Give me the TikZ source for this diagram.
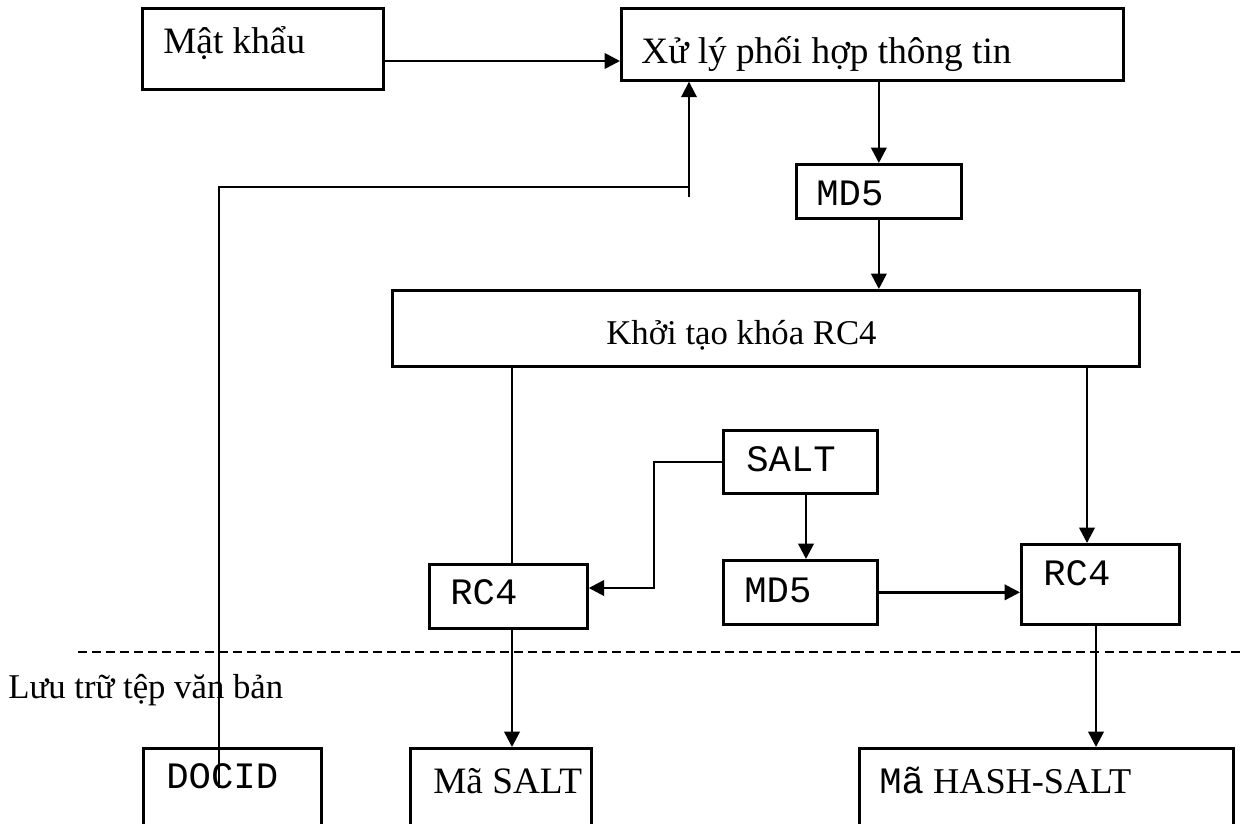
\documentclass[tikz,border=0pt]{standalone}
\usepackage{fontspec}
\setmainfont{Liberation Serif}
\newfontfamily\codefont{Liberation Mono}
\usetikzlibrary{arrows.meta}

\newcommand{\code}[1]{{\codefont\fontsize{26.5}{30}\selectfont #1}}

\begin{document}
\begin{tikzpicture}[x=0.025cm, y=-0.025cm,
  box/.style={draw, line width=1.9pt, rectangle, anchor=north west, inner ysep=0pt, align=flush left, font=\fontsize{24.7}{30}\selectfont},
  big/.style={font=\fontsize{26.5}{31}\selectfont},
  arr/.style={line width=1.9pt, -{Triangle[length=11pt,width=11pt]}},
  link/.style={line width=1.9pt},
  sep/.style={line width=1.2pt, dash pattern=on 6.4pt off 3.6pt}]
\useasboundingbox (0,0) rectangle (1240,823);
\clip (0,0) rectangle (1240,823);

\node (matkhau) [box, big, text width=4.975cm, inner xsep=0.525cm, text height=1.125cm, text depth=0.9cm] at (141,7) {Mật khẩu};
\node (xuly) [box, big, text width=11.55cm, inner xsep=0.5cm, text height=1.375cm, text depth=0.425cm] at (620,7) {Xử lý phối hợp thông tin};
\node (md5a) [box, text width=3.125cm, inner xsep=0.5cm, text height=1.025cm, text depth=0.325cm] at (795,163) {\code{MD5}};
\node (khoi) [box, text width=7.975cm, inner xsep=5.35cm, text height=1.35cm, text depth=0.55cm] at (391,289) {Khởi tạo khóa RC4};
\node (salt) [box, text width=2.7cm, inner xsep=0.575cm, text height=1.025cm, text depth=0.55cm] at (722,429) {\code{SALT}};
\node (md5b) [box, text width=2.8cm, inner xsep=0.525cm, text height=1.05cm, text depth=0.55cm] at (722,559) {\code{MD5}};
\node (rc4L) [box, text width=2.9cm, inner xsep=0.525cm, text height=1.0cm, text depth=0.6cm] at (428,563) {\code{RC4}};
\node (rc4R) [box, text width=2.85cm, inner xsep=0.55cm, text height=1.025cm, text depth=0.975cm] at (1020,543) {\code{RC4}};

\node (docid) [box, text width=3.3cm, inner xsep=0.575cm, text height=1.0cm, text depth=1.5cm] at (142,747) {\code{DOCID}};
\node (masalt) [box, big, text width=3.375cm, inner xsep=0.575cm, text height=1.125cm, text depth=1.375cm] at (409,747) {\mbox{Mã SALT}};
\node (mahash) [box, font=\fontsize{25.8}{31}\selectfont, text width=8.35cm, inner xsep=0.5cm, text height=1.125cm, text depth=1.375cm] at (858,747) {\code{Mã} HASH-SALT};

\draw[sep] (78,652) -- (1240,652);
\node (luutru) [anchor=base west, inner sep=0pt, font=\fontsize{24.7}{30}\selectfont] at (8,698) {Lưu trữ tệp văn bản};

\draw[arr] (matkhau.east |- 0,61) -- (xuly.west |- 0,61);
\draw[arr] (md5a.north |- xuly.south) -- (md5a.north);
\draw[arr] (md5a.south) -- (md5a.south |- khoi.north);
\draw[link] (khoi.south -| 512,0) -- (rc4L.north -| 512,0);
\draw[arr] (khoi.south -| 1087,0) -- (rc4R.north -| 1087,0);
\draw[arr] (salt.south -| 806,0) -- (md5b.north -| 806,0);
\draw[arr] (salt.west) -- ++(-68,0) |- (rc4L.east |- 0,588);
\draw[arr] (md5b.east) -- (rc4R.west |- md5b.east);
\draw[arr] (rc4L.south -| 512,0) -- (masalt.north -| 512,0);
\draw[arr] (rc4R.south -| 1096,0) -- (mahash.north -| 1096,0);

\coordinate (docsrc) at (219,788);
\coordinate (join) at (689,187);
\draw[arr, line width=1.4pt] (docsrc) |- (join) -- (xuly.south -| join);
\draw[line width=1.4pt] (join) -- ++(0,10);
\end{tikzpicture}
\end{document}
